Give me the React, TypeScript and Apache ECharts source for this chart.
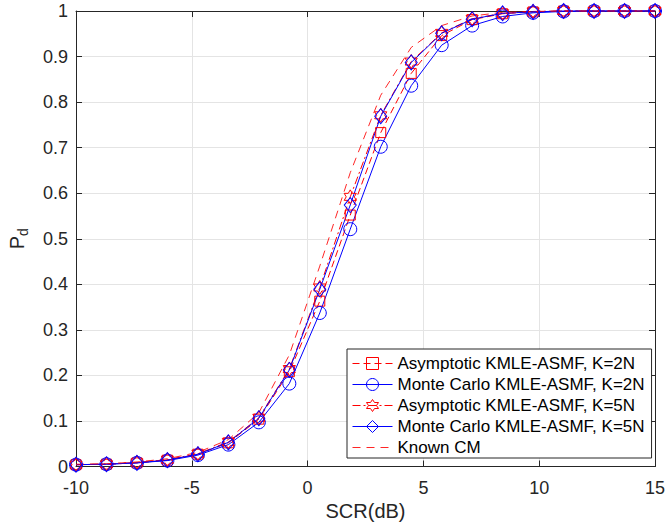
import React, { useEffect, useRef } from "react";
import * as echarts from "echarts";

const scrDb = [-10, -8.684, -7.368, -6.053, -4.737, -3.421, -2.105, -0.789, 0.526, 1.842, 3.158, 4.474, 5.789, 7.105, 8.421, 9.737, 11.053, 12.368, 13.684, 15];
const asym2N = [0.004, 0.005, 0.008, 0.014, 0.027, 0.052, 0.104, 0.208, 0.363, 0.552, 0.733, 0.863, 0.946, 0.981, 0.994, 0.998, 1, 1, 1, 1];
const mc2N = [0.004, 0.005, 0.008, 0.013, 0.025, 0.048, 0.097, 0.182, 0.337, 0.521, 0.702, 0.836, 0.925, 0.968, 0.988, 0.996, 0.999, 1, 1, 1];
const asym5N = [0.004, 0.005, 0.009, 0.015, 0.028, 0.054, 0.107, 0.214, 0.393, 0.592, 0.771, 0.889, 0.952, 0.983, 0.995, 0.999, 1, 1, 1, 1];
const mc5N = [0.004, 0.005, 0.008, 0.014, 0.027, 0.053, 0.106, 0.212, 0.389, 0.574, 0.769, 0.887, 0.951, 0.982, 0.995, 0.998, 1, 1, 1, 1];
const knownCM = [0.005, 0.006, 0.01, 0.017, 0.031, 0.059, 0.118, 0.245, 0.44, 0.645, 0.815, 0.92, 0.968, 0.989, 0.997, 0.999, 1, 1, 1, 1];

const seriesNames = [
  "Asymptotic KMLE-ASMF, K=2N",
  "Monte Carlo KMLE-ASMF, K=2N",
  "Asymptotic KMLE-ASMF, K=5N",
  "Monte Carlo KMLE-ASMF, K=5N",
  "Known CM",
];

const FONT = "Liberation Sans, Arial, Helvetica, sans-serif";
const AX = "#262626";
const GRID = "#e4e4e4";
const RED = "#ff0000";
const BLUE = "#0000ff";
const HEXAGRAM = "path://M100,0L128.9,50L186.6,50L157.7,100L186.6,150L128.9,150L100,200L71.1,150L13.4,150L42.3,100L13.4,50L71.1,50Z";

const pairs = (ys: number[]) => scrDb.map((x, i) => [x, ys[i]]);

export default function App() {
  const ref = useRef<HTMLDivElement>(null);
  useEffect(() => {
    if (!ref.current) return;
    const chart = echarts.init(ref.current, null, { renderer: "svg" });
    const axisLine = { show: true, onZero: false, lineStyle: { color: AX, width: 1 } };
    const axisTick = { show: true, inside: true, length: 6, lineStyle: { color: AX, width: 1 } };
    const mk = (
      name: string,
      ys: number[],
      color: string,
      symbol: string,
      symbolSize: any,
      lineType: any,
      extra: any = {}
    ) => ({
      type: "line",
      name,
      data: pairs(ys),
      symbol,
      symbolSize,
      symbolKeepAspect: true,
      showSymbol: true,
      clip: false,
      lineStyle: { color, width: 1, type: lineType },
      itemStyle: { color: "transparent", borderColor: color, borderWidth: 1 },
      emphasis: { disabled: true },
      z: 2,
      ...extra,
    });
    chart.setOption({
      animation: false,
      backgroundColor: "#ffffff",
      grid: { left: 76, right: 11, top: 11, bottom: 57.5, outerBoundsMode: "none", containLabel: false },
      xAxis: [
        {
          type: "value",
          min: -10,
          max: 15,
          interval: 5,
          position: "bottom",
          axisLine,
          axisTick,
          axisLabel: { fontFamily: FONT, fontSize: 18, color: AX, margin: 12 },
          splitLine: { show: true, lineStyle: { color: GRID, width: 1 } },
          name: "SCR(dB)",
          nameLocation: "middle",
          nameGap: 25,
          nameTextStyle: { fontFamily: FONT, fontSize: 20, color: AX, lineHeight: 20 },
        },
        {
          type: "value",
          min: -10,
          max: 15,
          interval: 5,
          position: "top",
          axisLine,
          axisTick,
          axisLabel: { show: false },
          splitLine: { show: false },
        },
      ],
      yAxis: [
        {
          type: "value",
          min: 0,
          max: 1,
          interval: 0.1,
          position: "left",
          axisLine,
          axisTick,
          axisLabel: { fontFamily: FONT, fontSize: 18, color: AX, margin: 8 },
          splitLine: { show: true, lineStyle: { color: GRID, width: 1 } },
          name: "P{s|d}",
          nameLocation: "middle",
          nameRotate: 90,
          nameGap: 46,
          nameTextStyle: {
            fontFamily: FONT,
            fontSize: 20,
            color: AX,
            lineHeight: 26,
            rich: {
              s: { fontFamily: FONT, fontSize: 14, color: AX, verticalAlign: "bottom", lineHeight: 14 },
            },
          },
        },
        {
          type: "value",
          min: 0,
          max: 1,
          interval: 0.1,
          position: "right",
          axisLine,
          axisTick,
          axisLabel: { show: false },
          splitLine: { show: false },
        },
      ],
      legend: {
        orient: "vertical",
        left: 347,
        top: 349,
        data: seriesNames,
        backgroundColor: "#ffffff",
        borderColor: AX,
        borderWidth: 1,
        padding: [4, 7, 0, 5],
        itemWidth: 40,
        itemHeight: 15,
        itemGap: 0,
        selectedMode: false,
        lineStyle: { width: 1 },
        itemStyle: { borderWidth: 1 },
        textStyle: { fontFamily: FONT, fontSize: 17, color: "#000000", lineHeight: 21 },
        z: 10,
      },
      series: [
        mk(seriesNames[0], asym2N, RED, "rect", 10, [7, 4]),
        mk(seriesNames[1], mc2N, BLUE, "circle", 13, "solid"),
        mk(seriesNames[2], asym5N, RED, HEXAGRAM, 14, [8, 3, 2, 3]),
        mk(seriesNames[3], mc5N, BLUE, "diamond", [12, 15], "solid", { symbolKeepAspect: false }),
        {
          ...mk(seriesNames[4], knownCM, RED, "circle", 0, [8, 6]),
          showSymbol: false,
          itemStyle: { color: "transparent", borderColor: "transparent", borderWidth: 0 },
          lineStyle: { color: RED, width: 1, type: [8, 6], opacity: 0.85 },
        },
      ],
    });
    return () => chart.dispose();
  }, []);
  return (
    <div
      ref={ref}
      style={{ position: "fixed", left: 0, top: 0, width: 666, height: 524, background: "#fff" }}
    />
  );
}
